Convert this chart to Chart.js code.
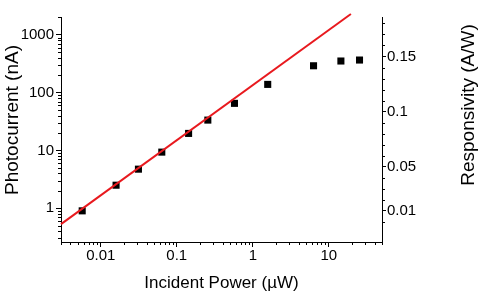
<!DOCTYPE html>
<html><head><meta charset="utf-8">
<script src="https://cdn.jsdelivr.net/npm/chart.js@4/dist/chart.umd.min.js"></script>
<style>html,body{margin:0;padding:0;background:#fff}canvas{display:block}</style>
</head><body>
<canvas id="c" width="481" height="298" style="width:481px;height:298px"></canvas>
<script>
// ---- data ----
const incidentPowerUW = [0.0057, 0.0159, 0.0313, 0.0635, 0.143, 0.256, 0.574, 1.57, 6.29, 14.4, 25.3];
const photocurrentNA  = [0.90, 2.5, 4.74, 9.35, 19.7, 33.5, 65.3, 139, 292, 353, 367];
const fitPowerUW   = [0.003, 19.5];
const fitCurrentNA = [0.53, 2300];
const xTickLabels = ['0.01', '0.1', '1', '10'];
const yTickLabels = ['1', '10', '100', '1000'];
const responsivityTickLabels = ['0.01', '0.05', '0.1', '0.15'];
const xTitle  = 'Incident Power (µW)';
const yTitle  = 'Photocurrent (nA)';
const y2Title = 'Responsivity (A/W)';

Chart.defaults.font.family = '"Liberation Sans", Arial, sans-serif';
Chart.defaults.color = '#000';

const isDecade = v => v > 0 && Math.abs(Math.log10(v) - Math.round(Math.log10(v))) < 1e-6;
const isMinorLog = v => {
  const e = Math.floor(Math.log10(v) + 1e-9);
  const s = v / Math.pow(10, e);
  return Math.abs(s - Math.round(s)) < 1e-6 && Math.round(s) > 1 && Math.round(s) < 10;
};

const minorTicks = {
  id: 'minorTicks',
  afterDraw(chart) {
    const ctx = chart.ctx;
    const xs = chart.scales.x, ys = chart.scales.y, y2 = chart.scales.y2;
    ctx.save();
    ctx.strokeStyle = '#000';
    ctx.lineWidth = 1;
    ctx.beginPath();
    xs.ticks.forEach(t => {
      if (isMinorLog(t.value)) {
        const p = Math.round(xs.getPixelForValue(t.value)) + 0.5;
        ctx.moveTo(p, xs.top); ctx.lineTo(p, xs.top + 3);
      }
    });
    ys.ticks.forEach(t => {
      if (isMinorLog(t.value)) {
        const p = Math.round(ys.getPixelForValue(t.value)) + 0.5;
        ctx.moveTo(ys.right, p); ctx.lineTo(ys.right - 3, p);
      }
    });
    const majors = responsivityTickLabels.map(Number);
    for (let k = 0; k <= 18; k++) {
      const v = k / 100;
      if (v < y2.min || v > y2.max) continue;
      if (majors.some(m => Math.abs(m - v) < 1e-9)) continue;
      const p = Math.round(y2.getPixelForValue(v)) + 0.5;
      ctx.moveTo(y2.left, p); ctx.lineTo(y2.left + 3, p);
    }
    ctx.stroke();

    // rotated axis titles
    ctx.fillStyle = '#000';
    ctx.font = '19px "Liberation Sans", Arial, sans-serif';
    ctx.textAlign = 'center';
    ctx.textBaseline = 'middle';
    ctx.save();
    ctx.translate(12.5, 120);
    ctx.rotate(-Math.PI / 2);
    ctx.fillText(yTitle, 0, 0);
    ctx.restore();
    ctx.save();
    ctx.translate(469, 105);
    ctx.rotate(-Math.PI / 2);
    ctx.fillText(y2Title, 0, 0);
    ctx.restore();
    ctx.restore();
  }
};

const tickFont = { size: 15 };

new Chart(document.getElementById('c'), {
  type: 'scatter',
  data: {
    datasets: [
      {
        label: 'fit',
        data: fitPowerUW.map((x, i) => ({ x, y: fitCurrentNA[i] })),
        showLine: true,
        borderColor: '#e8191e',
        borderWidth: 2,
        pointRadius: 0,
        clip: false,
        yAxisID: 'y'
      },
      {
        label: 'Photocurrent',
        data: incidentPowerUW.map((x, i) => ({ x, y: photocurrentNA[i] })),
        pointStyle: 'rect',
        pointRadius: 5,
        pointBackgroundColor: '#000',
        pointBorderColor: '#000',
        pointBorderWidth: 0,
        showLine: false,
        yAxisID: 'y'
      }
    ]
  },
  options: {
    responsive: false,
    devicePixelRatio: 1,
    animation: false,
    layout: { padding: { top: 17, left: 0, right: 0, bottom: 0 } },
    plugins: { legend: { display: false }, tooltip: { enabled: false } },
    scales: {
      x: {
        type: 'logarithmic',
        position: 'bottom',
        min: 0.003, max: 50,
        afterFit: s => { s.height = 56; },
        border: { display: true, color: '#000', width: 1 },
        grid: {
          drawOnChartArea: false, drawTicks: true, tickLength: 5,
          tickColor: c => (c.tick && isDecade(c.tick.value)) ? '#000' : 'rgba(0,0,0,0)'
        },
        ticks: {
          autoSkip: false, maxRotation: 0, padding: 0, font: tickFont, color: '#000',
          callback: v => xTickLabels.find(l => Math.abs(Number(l) - v) < 1e-9) ?? ''
        },
        title: { display: true, text: xTitle, font: { size: 17 }, color: '#000', padding: { top: 0, bottom: 4 } }
      },
      y: {
        type: 'logarithmic',
        position: 'left',
        min: 0.26, max: 2040,
        afterFit: s => { s.width = 61; },
        border: { display: true, color: '#000', width: 1 },
        grid: {
          drawOnChartArea: false, drawTicks: true, tickLength: 5,
          tickColor: c => (c.tick && isDecade(c.tick.value)) ? '#000' : 'rgba(0,0,0,0)'
        },
        ticks: {
          autoSkip: false, padding: 2, font: tickFont, color: '#000',
          callback: v => yTickLabels.find(l => Math.abs(Number(l) - v) < 1e-9) ?? ''
        }
      },
      y2: {
        type: 'linear',
        position: 'right',
        display: true,
        min: -0.0186, max: 0.1859,
        afterFit: s => { s.width = 99; },
        afterBuildTicks: s => { s.ticks = responsivityTickLabels.map(l => ({ value: Number(l) })); },
        border: { display: true, color: '#000', width: 1 },
        grid: { drawOnChartArea: false, drawTicks: true, tickLength: 4, tickColor: '#000' },
        ticks: {
          autoSkip: false, padding: 1, font: tickFont, color: '#000',
          callback: v => responsivityTickLabels.find(l => Math.abs(Number(l) - v) < 1e-9) ?? ''
        }
      }
    }
  },
  plugins: [minorTicks]
});
</script>
</body></html>
